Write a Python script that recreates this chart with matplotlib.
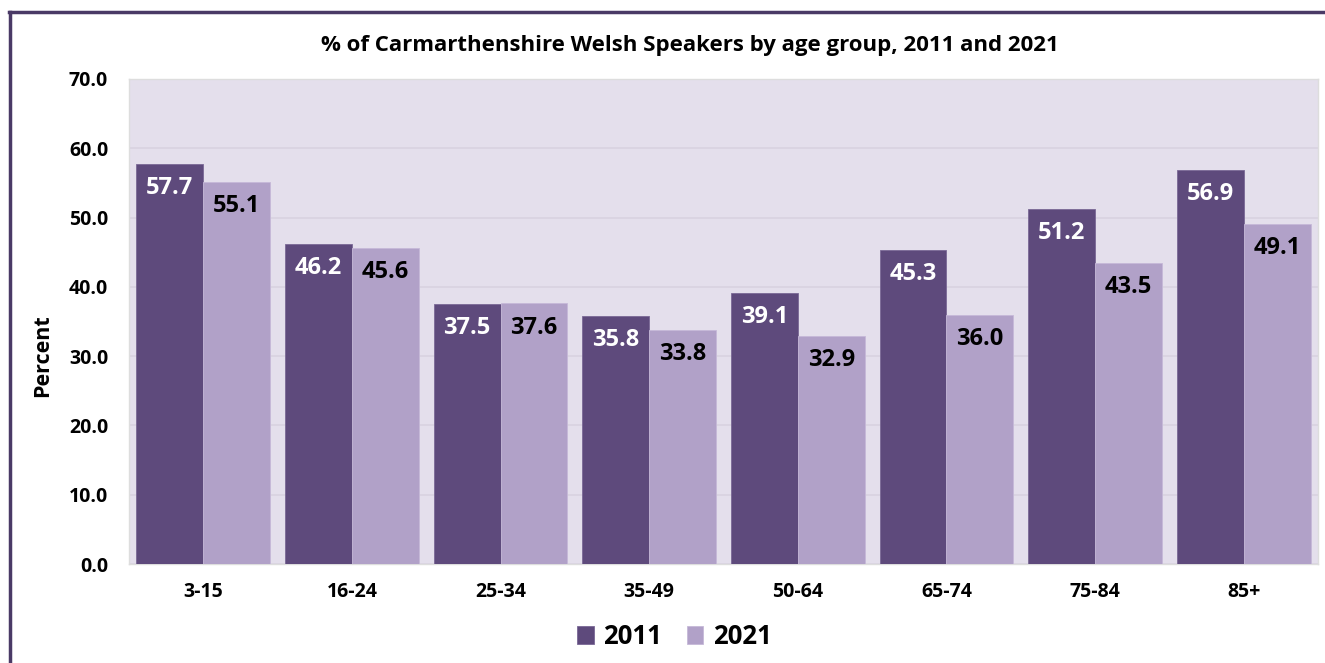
import numpy as np
import matplotlib
matplotlib.use("Agg")
import matplotlib.pyplot as plt
from matplotlib.lines import Line2D

plt.rcParams['font.family'] = ['Open Sans', 'DejaVu Sans']
plt.rcParams['font.weight'] = 'bold'

# data
grupos = ['3-15', '16-24', '25-34', '35-49', '50-64', '65-74', '75-84', '85+']
pct2011 = [57.7, 46.2, 37.5, 35.8, 39.1, 45.3, 51.2, 56.9]
pct2021 = [55.1, 45.6, 37.6, 33.8, 32.9, 36.0, 43.5, 49.1]
yticks = [0, 10, 20, 30, 40, 50, 60, 70]

oscuro = '#5E4A7C'
claro = '#B1A1C8'
fondo = '#E4DFEC'

fig = plt.figure(figsize=(13.25, 6.63), dpi=100)
ax = fig.add_axes([0.0974, 0.1493, 0.8973, 0.7317])
ax.set_facecolor(fondo)

x = np.arange(len(grupos))
ancho = 0.45
b1 = ax.bar(x - ancho / 2, pct2011, ancho, color=oscuro, edgecolor='#7A6896', linewidth=0.6, label='2011', zorder=3)
b2 = ax.bar(x + ancho / 2, pct2021, ancho, color=claro, edgecolor='#C6B9D8', linewidth=0.6, label='2021', zorder=3)

# etiquetas de datos dentro de la barra
for rect, v in zip(b1, pct2011):
    ax.text(rect.get_x() + rect.get_width() / 2, v - 3.5, f'{v:.1f}', ha='center', va='center',
            color='white', fontsize=17, fontweight='bold', zorder=4)
for rect, v in zip(b2, pct2021):
    ax.text(rect.get_x() + rect.get_width() / 2, v - 3.5, f'{v:.1f}', ha='center', va='center',
            color='black', fontsize=17, fontweight='bold', zorder=4)

ax.set_xlim(-0.5, len(grupos) - 0.5)
ax.set_ylim(0, 70)
ax.set_yticks(yticks)
ax.set_yticklabels([f'{t:.1f}' for t in yticks], fontsize=14, fontweight='bold')
ax.set_xticks(x)
ax.set_xticklabels(grupos, fontsize=14, fontweight='bold')
ax.tick_params(length=0)
ax.tick_params(axis='y', pad=15)
ax.tick_params(axis='x', pad=13)
ax.grid(axis='y', color='#D8D2E0', linewidth=1.2, zorder=0)
for s in ax.spines.values():
    s.set_color('#DDDDDD')
    s.set_linewidth(1)

ax.set_ylabel('Percent', fontsize=15.5, fontweight='bold')
ax.yaxis.set_label_coords(-0.064, 0.43)
fig.text(0.521, 0.932, '% of Carmarthenshire Welsh Speakers by age group, 2011 and 2021',
         ha='center', va='center', fontsize=16, fontweight='bold')

leg = fig.legend(handles=[b1, b2], labels=['2011', '2021'], loc='center', bbox_to_anchor=(0.509, 0.04),
                 ncol=2, frameon=False, handlelength=0.65, handleheight=0.65,
                 handletextpad=0.36, columnspacing=0.96, prop={'weight': 'bold', 'size': 18.5})

# marco de la figura (izquierda y arriba)
fig.add_artist(Line2D([0.0075, 0.0075], [0, 0.982], color='#4A3A66', linewidth=2.5, transform=fig.transFigure))
fig.add_artist(Line2D([0.0068, 1], [0.982, 0.982], color='#4A3A66', linewidth=2.5, transform=fig.transFigure))

plt.savefig('out.png', dpi=100)
